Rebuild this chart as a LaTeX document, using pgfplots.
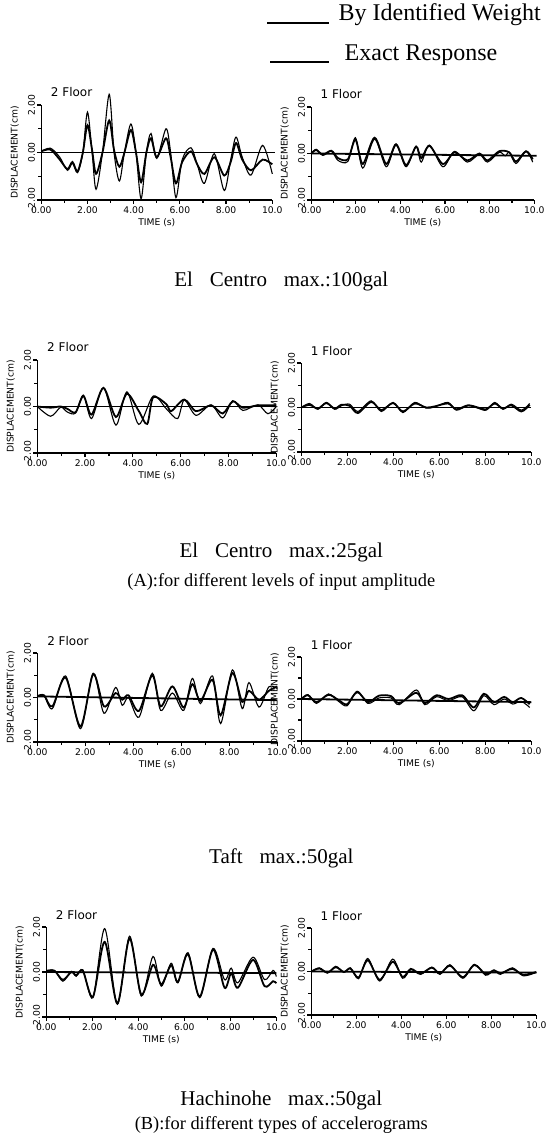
\documentclass[border=0pt]{standalone}
\usepackage{fontspec}
\setmainfont{Liberation Serif}
\setsansfont{DejaVu Sans}
\usepackage{pgfplots}
\pgfplotsset{compat=1.18}
\pgfplotsset{
 panel/.style={
  scale only axis, xmin=0,xmax=10,ymin=-2,ymax=2,
  axis x line*=bottom, axis y line*=left,
  xtick={0,2,4,6,8,10}, xticklabels={0.00,2.00,4.00,6.00,8.00,10.0},
  minor xtick={1,3,5,7,9},
  ytick={-2,0,2}, yticklabels={-2.00,0.00,2.00}, minor ytick={-1,1},
  tick align=outside, major tick length=2pt, minor tick length=1.5pt,
  every tick/.style={black, line width=0.6pt},
  axis line style={line width=0.7pt},
  tick label style={font=\sffamily\fontsize{4.6}{5}\selectfont},
  yticklabel style={rotate=90, anchor=south, inner sep=1pt},
  xticklabel style={inner sep=1pt},
  xlabel={TIME (s)}, ylabel={DISPLACEMENT(cm)},
  label style={font=\sffamily\fontsize{4.6}{5}\selectfont},
  xlabel style={yshift=2pt},
  ylabel style={yshift=0pt},
  clip=false,
 },
 ident/.style={black, line width=0.9pt, smooth},
 exact/.style={black, line width=0.55pt, smooth},
 zero/.style={black, line width=0.9pt},
}
\newcommand{\floor}[1]{\node[anchor=south west, inner sep=0pt, font=\sffamily\fontsize{6}{6}\selectfont] at (rel axis cs:0.04,1.08) {#1};}
\begin{document}
\begin{tikzpicture}
\path (0pt,0pt) rectangle (277.5pt,-572pt);
% legend
\draw[line width=1.4pt] (131.5pt,-11.5pt) -- (162.5pt,-11.5pt);
\node[anchor=west, inner sep=0pt, font=\fontsize{12}{14}\selectfont] at (167pt,-7.5pt) {By Identified Weight};
\draw[line width=0.7pt] (133pt,-31pt) -- (162.5pt,-31pt);
\node[anchor=west, inner sep=0pt, font=\fontsize{12}{14}\selectfont] at (170pt,-27.5pt) {Exact Response};

% ---------- Row 1 left: 2 Floor, El Centro 100gal
\begin{axis}[panel, at={(18.5pt,-100pt)}, anchor=south west, width=115.5pt, height=47.5pt]
\addplot[zero] coordinates {(0,0)(10.1,0)};
\addplot[exact] coordinates {(0,0.05)(0.4,0.18)(0.8,-0.2)(1.13,-0.75)(1.35,-0.45)(1.57,-0.85)(1.8,0)(2.0,1.7)(2.2,0)(2.37,-1.55)(2.65,0)(2.94,2.45)(3.15,0)(3.38,-1.2)(3.6,0)(3.88,1.2)(4.1,0)(4.32,-1.95)(4.55,0)(4.75,0.8)(5.0,-0.25)(5.4,1.0)(5.6,0)(5.83,-1.9)(6.1,-0.3)(6.48,0.2)(6.75,-0.5)(7.06,-1.3)(7.49,-0.05)(7.92,-1.6)(8.2,-0.3)(8.43,0.65)(8.7,-0.2)(9.08,-0.95)(9.58,0.3)(10,-0.9)};
\addplot[ident] coordinates {(0,0.05)(0.4,0.12)(0.8,-0.3)(1.13,-0.7)(1.35,-0.4)(1.57,-0.8)(1.8,0)(2.0,1.15)(2.2,0.1)(2.37,-0.9)(2.65,0)(2.94,1.35)(3.15,0.1)(3.38,-0.6)(3.6,0)(3.88,0.95)(4.1,0)(4.32,-1.25)(4.55,0)(4.75,0.6)(5.0,-0.2)(5.4,0.6)(5.6,-0.2)(5.83,-1.3)(6.1,-0.4)(6.48,0.05)(6.75,-0.5)(7.06,-0.9)(7.49,-0.2)(7.92,-0.97)(8.2,-0.4)(8.43,0.4)(8.7,-0.3)(9.08,-0.75)(9.58,-0.3)(10,-0.5)};
\floor{2 Floor}
\end{axis}

% ---------- Row 1 right: 1 Floor
\begin{axis}[panel, at={(153.5pt,-100pt)}, anchor=south west, width=111.5pt, height=46.5pt]
\addplot[zero] coordinates {(0,0)(10.1,-0.1)};
\addplot[exact] coordinates {(0,0)(0.22,0.18)(0.52,-0.08)(0.9,0.1)(1.2,-0.3)(1.64,-0.34)(1.98,0.68)(2.31,-0.63)(2.84,0.62)(3.36,-0.57)(3.8,0.36)(4.25,-0.57)(4.7,0.29)(4.93,-0.37)(5.3,0.36)(5.9,-0.57)(6.42,0.09)(7.0,-0.37)(7.54,-0.04)(7.9,-0.37)(8.43,0.05)(8.7,-0.1)(8.88,0.05)(9.18,-0.43)(9.63,0.09)(9.93,-0.37)};
\addplot[ident] coordinates {(0,0)(0.22,0.15)(0.52,-0.05)(0.9,0.12)(1.2,-0.2)(1.64,-0.25)(1.98,0.6)(2.31,-0.45)(2.84,0.68)(3.36,-0.45)(3.8,0.4)(4.25,-0.5)(4.7,0.3)(4.93,-0.2)(5.3,0.33)(5.9,-0.45)(6.42,0.05)(7.0,-0.3)(7.54,0.0)(7.9,-0.3)(8.43,0.1)(8.88,0.05)(9.18,-0.35)(9.63,0.1)(9.93,-0.25)};
\floor{1 Floor}
\end{axis}

\node[font=\fontsize{10.5}{12}\selectfont] at (138.5pt,-140.5pt) {El\hspace{0.8em}Centro\hspace{0.8em}max.:100gal};

% ---------- Row 2 left: 2 Floor, El Centro 25gal
\begin{axis}[panel, at={(16.5pt,-226.5pt)}, anchor=south west, width=119.5pt, height=46.5pt]
\addplot[zero] coordinates {(0,0)(10,0)};
\addplot[exact] coordinates {(0,0)(0.56,-0.42)(0.98,-0.03)(1.26,-0.24)(1.6,-0.28)(1.93,0.49)(2.27,-0.52)(2.77,0.81)(3.29,-0.8)(3.75,0.63)(4.25,-0.77)(4.85,0.45)(5.4,-0.1)(5.87,-0.52)(6.15,0.28)(6.64,-0.38)(7.27,0.07)(7.76,-0.49)(8.18,0.25)(8.6,-0.17)(9.23,0.07)(9.65,-0.31)(10,0)};
\addplot[ident] coordinates {(0,0)(0.56,-0.05)(0.98,0.0)(1.26,-0.1)(1.6,-0.25)(1.93,0.45)(2.27,-0.35)(2.77,0.8)(3.29,-0.45)(3.75,0.55)(4.25,-0.2)(4.6,-0.75)(4.85,0.4)(5.4,0.1)(5.6,-0.2)(6.15,0.3)(6.64,-0.2)(7.27,0.05)(7.76,-0.3)(8.18,0.22)(8.6,-0.05)(9.23,0.05)(9.65,0.05)(10,0.05)};
\floor{2 Floor}
\end{axis}

% ---------- Row 2 right: 1 Floor
\begin{axis}[panel, at={(148.5pt,-226pt)}, anchor=south west, width=115pt, height=44.5pt]
\addplot[zero] coordinates {(0,0)(10,0)};
\addplot[exact] coordinates {(0,0)(0.36,0.18)(0.72,-0.08)(1.09,0.23)(1.45,-0.08)(1.74,0.08)(2.1,0.15)(2.46,-0.18)(3.04,0.3)(3.48,-0.18)(3.99,0.23)(4.42,-0.23)(4.93,0.23)(5.43,-0.03)(5.8,0.03)(6.38,0.23)(6.74,-0.12)(7.25,0.08)(7.68,-0.03)(8.04,-0.12)(8.41,0.23)(8.77,-0.08)(9.13,0.15)(9.57,-0.12)(9.93,0.18)};
\addplot[ident] coordinates {(0,0)(0.36,0.12)(0.72,-0.05)(1.09,0.2)(1.45,-0.05)(1.74,0.12)(2.1,0.08)(2.46,-0.25)(3.04,0.25)(3.48,-0.12)(3.99,0.2)(4.42,-0.18)(4.93,0.18)(5.43,0.0)(5.8,0.05)(6.38,0.18)(6.74,-0.08)(7.25,0.1)(7.68,0.0)(8.04,-0.08)(8.41,0.18)(8.77,-0.05)(9.13,0.1)(9.57,-0.18)(9.93,0.12)};
\floor{1 Floor}
\end{axis}

\node[font=\fontsize{10.5}{12}\selectfont] at (138.5pt,-276pt) {El\hspace{0.8em}Centro\hspace{0.8em}max.:25gal};
\node[font=\fontsize{9.2}{11}\selectfont] at (138.5pt,-291pt) {(A):for different levels of input amplitude};

% ---------- Row 3 left: 2 Floor, Taft
\begin{axis}[panel, at={(16.5pt,-371pt)}, anchor=south west, width=120pt, height=44.5pt]
\addplot[zero] coordinates {(0,0.05)(10,-0.12)};
\addplot[exact] coordinates {(0,0.06)(0.28,0.08)(0.63,-0.5)(1.18,0.97)(1.8,-1.4)(2.33,1.09)(2.78,-0.71)(3.26,0.45)(3.54,-0.35)(3.8,0.0)(4.24,-0.88)(4.79,1.09)(5.14,-0.58)(5.63,0.2)(6.1,-0.58)(6.46,0.86)(6.8,-0.27)(7.3,0.97)(7.64,-1.17)(8.13,1.24)(8.54,-0.5)(8.82,0.67)(9.24,-0.43)(9.65,0.48)(10,0.4)};
\addplot[ident] coordinates {(0,0.06)(0.28,0.1)(0.63,-0.4)(1.18,0.9)(1.8,-1.3)(2.33,1.05)(2.78,-0.4)(3.26,0.2)(3.54,-0.1)(3.8,0.1)(4.24,-0.6)(4.79,1.0)(5.14,-0.4)(5.63,0.5)(6.1,-0.45)(6.46,0.6)(6.8,-0.15)(7.3,0.8)(7.64,-0.8)(8.13,1.1)(8.54,-0.2)(8.82,0.3)(9.24,-0.1)(9.65,0.3)(10,0.5)};
\floor{2 Floor}
\end{axis}

% ---------- Row 3 right: 1 Floor
\begin{axis}[panel, at={(148.5pt,-370.5pt)}, anchor=south west, width=115pt, height=42pt]
\addplot[zero] coordinates {(0,0)(10,-0.15)};
\addplot[exact] coordinates {(0,0)(0.29,0.21)(0.66,-0.21)(1.18,0.24)(1.62,-0.11)(1.99,-0.32)(2.43,0.37)(2.9,-0.21)(3.38,0.05)(3.9,0.05)(4.26,-0.27)(5.0,0.43)(5.37,-0.27)(5.88,0.11)(6.4,-0.08)(6.99,0.11)(7.5,-0.56)(7.94,0.16)(8.38,-0.27)(8.82,0)(9.19,-0.24)(9.56,-0.11)(9.93,-0.4)};
\addplot[ident] coordinates {(0,0)(0.29,0.18)(0.66,-0.15)(1.18,0.2)(1.62,-0.05)(1.99,-0.25)(2.43,0.33)(2.9,-0.15)(3.38,0.16)(3.9,0.14)(4.26,-0.2)(5.0,0.3)(5.37,-0.2)(5.88,0.18)(6.4,0.0)(6.99,0.18)(7.5,-0.4)(7.94,0.25)(8.38,-0.15)(8.82,0.1)(9.19,-0.15)(9.56,0.05)(9.93,-0.25)};
\floor{1 Floor}
\end{axis}

\node[font=\fontsize{10.5}{12}\selectfont] at (138.5pt,-429pt) {Taft\hspace{0.8em}max.:50gal};

% ---------- Row 4 left: 2 Floor, Hachinohe
\begin{axis}[panel, at={(21pt,-508.5pt)}, anchor=south west, width=115pt, height=45pt]
\addplot[zero] coordinates {(0,0)(10,-0.05)};
\addplot[exact] coordinates {(0,0.05)(0.36,0.07)(0.72,-0.41)(1.09,0.03)(1.3,-0.19)(1.59,0.1)(2.03,-1.14)(2.54,1.93)(3.09,-1.43)(3.62,1.59)(4.13,-1.07)(4.64,0.69)(5.0,-0.63)(5.43,0.39)(5.72,-0.48)(6.16,0.86)(6.67,-1.14)(7.25,1.05)(7.75,-0.34)(8.04,0.17)(8.33,-0.48)(8.99,0.66)(9.49,-0.34)(9.86,0.07)(10,-0.2)};
\addplot[ident] coordinates {(0,0.05)(0.36,0.05)(0.72,-0.35)(1.09,0.0)(1.3,-0.15)(1.59,0.05)(2.03,-1.1)(2.54,1.34)(3.09,-1.4)(3.62,1.49)(4.13,-1.0)(4.64,0.32)(5.0,-0.55)(5.43,0.3)(5.72,-0.45)(6.16,0.8)(6.67,-1.1)(7.25,1.0)(7.75,-0.7)(8.04,-0.05)(8.33,-0.7)(8.99,0.54)(9.49,-0.63)(9.86,-0.41)(10,-0.5)};
\floor{2 Floor}
\end{axis}

% ---------- Row 4 right: 1 Floor
\begin{axis}[panel, at={(153.5pt,-507.5pt)}, anchor=south west, width=112.5pt, height=43.5pt]
\addplot[zero] coordinates {(0,0)(10,-0.05)};
\addplot[exact] coordinates {(0,0)(0.36,0.17)(0.72,-0.07)(1.09,0.24)(1.45,-0.04)(1.74,0.17)(2.1,-0.33)(2.51,0.6)(3.04,-0.44)(3.62,0.57)(4.06,-0.31)(4.42,0.09)(4.86,-0.13)(5.36,0.2)(5.72,-0.13)(6.16,0.31)(6.74,-0.31)(7.25,0.33)(7.75,-0.17)(8.12,0.04)(8.41,-0.13)(8.94,0.17)(9.42,-0.2)(10,-0.04)};
\addplot[ident] coordinates {(0,0)(0.36,0.14)(0.72,-0.05)(1.09,0.2)(1.45,-0.02)(1.74,0.14)(2.1,-0.28)(2.51,0.52)(3.04,-0.38)(3.62,0.45)(4.06,-0.25)(4.42,0.12)(4.86,-0.1)(5.36,0.18)(5.72,-0.1)(6.16,0.27)(6.74,-0.26)(7.25,0.3)(7.75,-0.12)(8.12,0.06)(8.41,-0.08)(8.94,0.12)(9.42,-0.15)(10,-0.02)};
\floor{1 Floor}
\end{axis}

\node[font=\fontsize{10.5}{12}\selectfont] at (138.5pt,-550pt) {Hachinohe\hspace{0.8em}max.:50gal};
\node[font=\fontsize{9.2}{11}\selectfont] at (138.5pt,-562.5pt) {(B):for different types of accelerograms};
\end{tikzpicture}
\end{document}
